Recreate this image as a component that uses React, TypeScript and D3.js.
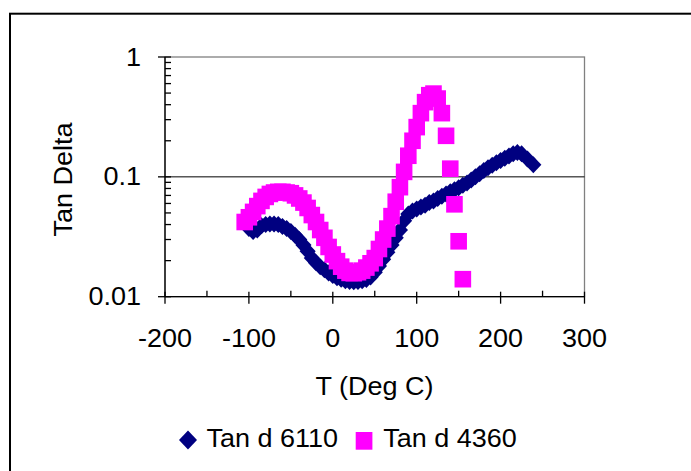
import * as d3 from "d3";

// Tan d 6110 (navy diamonds)
const tempsA = [-100, -95, -90, -85, -80, -75, -70, -65, -60, -55, -50, -45, -40, -35, -30, -25, -20, -15, -10, -5,
  0, 5, 10, 15, 20, 25, 30, 35, 40, 45, 50, 55, 60, 65, 70, 75, 80, 85, 90, 95,
  100, 105, 110, 115, 120, 125, 130, 135, 140, 145, 150, 155, 160, 165, 170, 175, 180, 185, 190, 195,
  200, 205, 210, 215, 220, 225, 232, 239];
const tanA = [0.037, 0.035, 0.036, 0.039, 0.040, 0.0405, 0.0405, 0.040, 0.0385, 0.037, 0.035, 0.0325, 0.030, 0.027, 0.024, 0.021, 0.0192, 0.0178, 0.0168, 0.0158,
  0.015, 0.0144, 0.014, 0.0136, 0.0134, 0.0133, 0.0134, 0.0136, 0.0139, 0.0146, 0.016, 0.018, 0.0205, 0.0235, 0.027, 0.031, 0.036, 0.043, 0.049, 0.052,
  0.054, 0.056, 0.058, 0.061, 0.063, 0.066, 0.069, 0.072, 0.075, 0.078, 0.081, 0.085, 0.089, 0.094, 0.1, 0.106, 0.113, 0.119, 0.125, 0.131,
  0.137, 0.143, 0.149, 0.156, 0.16, 0.156, 0.141, 0.126];

// Tan d 4360 (magenta squares)
const tempsB = [-105, -100, -95, -90, -85, -80, -75, -70, -65, -60, -55, -50, -45, -40, -35, -30, -25, -20, -15, -10, -5,
  0, 5, 10, 15, 20, 25, 30, 35, 40, 45, 50, 55, 60, 65, 70, 75, 80, 85, 90, 95,
  100, 105, 110, 115, 120, 125, 130, 135, 140, 145, 150, 155];
const tanB = [0.042, 0.046, 0.051, 0.057, 0.063, 0.068, 0.072, 0.074, 0.075, 0.075, 0.074, 0.073, 0.07, 0.066, 0.061, 0.055, 0.048, 0.042, 0.036, 0.031, 0.026,
  0.0225, 0.0198, 0.0178, 0.0165, 0.0158, 0.0157, 0.016, 0.0165, 0.0175, 0.019, 0.021, 0.025, 0.03, 0.037, 0.047, 0.062, 0.082, 0.11, 0.15, 0.2,
  0.26, 0.34, 0.42, 0.48, 0.495, 0.45, 0.34, 0.22, 0.117, 0.059, 0.029, 0.014];

const xTicks = [-200, -100, 0, 100, 200, 300];
const xMinor = [-150, -50, 50, 150, 250];
const yTicks = [0.01, 0.1, 1];
const yTickLabels = ["0.01", "0.1", "1"];
const seriesNames = ["Tan d 6110", "Tan d 4360"];

const NAVY = "#000080";
const PINK = "#FF00FF";
const FONT = "'Liberation Sans', Arial, sans-serif";

const x = d3.scaleLinear().domain([-200, 300]).range([165, 584.5]);
const y = d3.scaleLog().domain([0.01, 1]).range([296.7, 57]);

// minor log ticks 2..9 per decade
const yMinor: number[] = [];
[0.01, 0.1].forEach((d) => { for (let k = 2; k <= 9; k++) yMinor.push(d * k); });

const diamond = (cx: number, cy: number, r: number) =>
  `M${cx},${cy - r}L${cx + r * 0.95},${cy}L${cx},${cy + r}L${cx - r * 0.95},${cy}Z`;

// Excel's text looks a little stretched sideways
const Label = ({ tx, ty, anchor = "middle", rotate = 0, children }: any) => (
  <g transform={`translate(${tx},${ty}) rotate(${rotate}) scale(1.08,1)`}>
    <text textAnchor={anchor} fontFamily={FONT} fontSize={25} fill="#000">{children}</text>
  </g>
);

export default function App() {
  const [x0, x1] = x.range();
  const [y0, y1] = y.range();
  return (
    <svg width={691} height={471} style={{ position: "absolute", left: 0, top: 0, background: "#fff" }}>
      {/* chart border, clipped on right/bottom */}
      <rect x={10} y={13.7} width={720} height={500} fill="none" stroke="#000" strokeWidth={2} />

      {/* plot area */}
      <rect x={x0} y={y1} width={x1 - x0} height={y0 - y1} fill="#fff" stroke="#808080" strokeWidth={1.3} />
      <line x1={x0} x2={x1} y1={y(0.1)} y2={y(0.1)} stroke="#000" strokeWidth={1} />

      {/* series */}
      <g fill={NAVY}>
        {tempsA.map((t, i) => <path key={i} d={diamond(x(t), y(tanA[i]), 8.5)} />)}
      </g>
      <g fill={PINK}>
        {tempsB.map((t, i) => <rect key={i} x={x(t) - 8.3} y={y(tanB[i]) - 8.3} width={16.6} height={16.6} />)}
      </g>

      {/* axes */}
      <line x1={x0} x2={x0} y1={y1} y2={y0} stroke="#000" strokeWidth={1.3} />
      <line x1={x0} x2={x1} y1={y0} y2={y0} stroke="#000" strokeWidth={1.3} />
      {xTicks.map((t) => <line key={t} x1={x(t)} x2={x(t)} y1={y0 - 5} y2={y0 + 7} stroke="#000" strokeWidth={1.3} />)}
      {xMinor.map((t) => <line key={t} x1={x(t)} x2={x(t)} y1={y0 - 6} y2={y0} stroke="#000" strokeWidth={1.3} />)}
      {yTicks.map((t) => <line key={t} x1={x0 - 7} x2={x0 + 6} y1={y(t)} y2={y(t)} stroke="#000" strokeWidth={1.3} />)}
      {yMinor.map((t) => <line key={t} x1={x0} x2={x0 + 6} y1={y(t)} y2={y(t)} stroke="#000" strokeWidth={1.3} />)}

      {xTicks.map((t) => <Label key={t} tx={x(t)} ty={347}>{t}</Label>)}
      {yTicks.map((t, i) => <Label key={t} tx={141} ty={y(t) + 8.5} anchor="end">{yTickLabels[i]}</Label>)}

      <Label tx={374.5} ty={395}>T (Deg C)</Label>
      <Label tx={71.5} ty={179.5} rotate={-90}>Tan Delta</Label>

      {/* legend */}
      <path d={diamond(188, 440, 9.5)} fill={NAVY} />
      <Label tx={206.5} ty={447.3} anchor="start">{seriesNames[0]}</Label>
      <rect x={355.7} y={432} width={16.7} height={17.7} fill={PINK} />
      <Label tx={383.3} ty={447.3} anchor="start">{seriesNames[1]}</Label>
    </svg>
  );
}
